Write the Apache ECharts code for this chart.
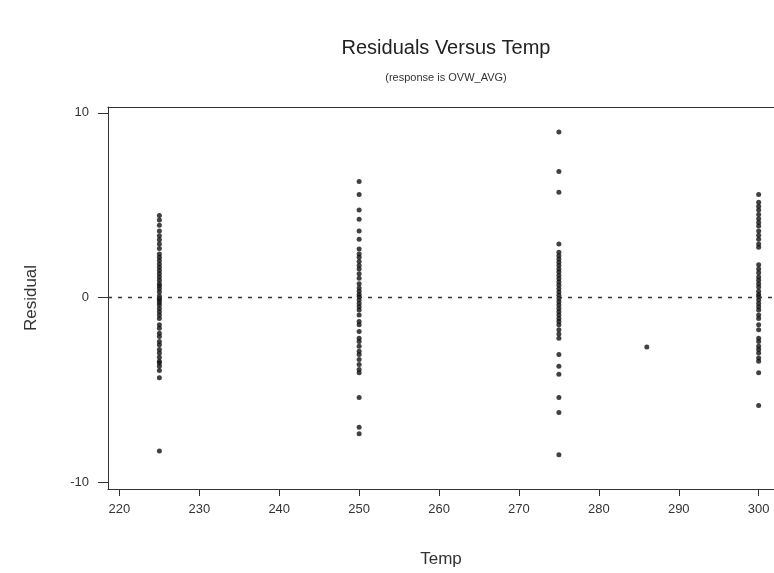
<!DOCTYPE html>
<html>
<head>
<meta charset="utf-8">
<script src="https://cdn.jsdelivr.net/npm/echarts@6/dist/echarts.min.js"></script>
<style>html,body{margin:0;padding:0;background:#fff}#c{width:774px;height:573px}</style>
</head>
<body>
<div id="c"></div>
<script>
const titleText = "Residuals Versus Temp";
const subtitleText = "(response is OVW_AVG)";
const xName = "Temp";
const yName = "Residual";
const xTicks = [220, 230, 240, 250, 260, 270, 280, 290, 300];
const yTicks = [-10, 0, 10];

const res225 = [4.45, 4.2, 3.91, 3.61, 3.34, 3.13, 2.9, 2.66, 2.36, 2.18, 2.0, 1.82, 1.64, 1.47, 1.29, 1.11, 0.93, 0.75, 0.63, 0.48, 0.30, 0.09, -0.05, -0.14, -0.27, -0.41, -0.59, -0.77, -0.95, -1.13, -1.48, -1.66, -1.93, -2.11, -2.38, -2.56, -2.82, -3.0, -3.23, -3.45, -3.54, -3.72, -3.95, -4.34, -8.31];
const res250 = [6.29, 5.58, 4.74, 4.24, 3.61, 3.16, 2.63, 2.36, 2.18, 1.95, 1.73, 1.55, 1.29, 1.05, 0.75, 0.52, 0.34, 0.16, 0.04, -0.14, -0.32, -0.5, -0.68, -0.95, -1.3, -1.48, -1.84, -2.2, -2.38, -2.64, -2.91, -3.09, -3.36, -3.63, -3.9, -4.08, -5.42, -7.02, -7.38];
const res275 = [8.97, 6.83, 5.7, 2.9, 2.45, 2.27, 2.09, 1.91, 1.73, 1.55, 1.38, 1.2, 1.02, 0.84, 0.66, 0.48, 0.3, 0.13, -0.05, -0.23, -0.41, -0.59, -0.77, -0.95, -1.13, -1.3, -1.48, -1.75, -1.98, -2.2, -3.09, -3.72, -4.16, -5.42, -6.22, -8.51];
const res300 = [5.58, 5.16, 4.95, 4.74, 4.5, 4.27, 4.06, 3.88, 3.61, 3.38, 3.16, 2.9, 2.72, 1.77, 1.55, 1.34, 1.11, 0.93, 0.75, 0.57, 0.34, 0.16, 0.04, -0.14, -0.32, -0.5, -0.68, -0.95, -1.13, -1.48, -1.75, -2.2, -2.38, -2.64, -2.82, -3.0, -3.27, -3.45, -4.08, -5.85];
const outlierTemp = [286];
const outlierRes = [-2.68];

const groups = [[225, res225], [250, res250], [275, res275], [300, res300]];
const points = [];
groups.forEach(([t, arr]) => arr.forEach(v => points.push([t, v])));
outlierTemp.forEach((t, i) => points.push([t, outlierRes[i]]));

const font = "Liberation Sans, Arial, sans-serif";
const X_MIN = 218.57, X_MAX = 301.92;
const chart = echarts.init(document.getElementById('c'), null, {renderer: 'canvas'});
chart.setOption({
  animation: false,
  backgroundColor: '#fff',
  title: {
    text: titleText,
    subtext: subtitleText,
    left: 441, top: 33, textAlign: 'center',
    itemGap: 14,
    textStyle: {fontFamily: font, fontSize: 20, fontWeight: 'normal', color: '#222'},
    subtextStyle: {fontFamily: font, fontSize: 11, color: '#333'}
  },
  grid: {left: 108, right: 0, top: 107, bottom: 80, show: false},
  xAxis: [{
    type: 'value', min: X_MIN, max: X_MAX,
    name: xName, nameLocation: 'middle', nameGap: 62,
    nameTextStyle: {fontFamily: font, fontSize: 17, color: '#333'},
    axisLine: {show: true, onZero: false, lineStyle: {color: '#333', width: 1}},
    axisTick: {show: true, length: 7, customValues: xTicks, lineStyle: {color: '#333'}},
    axisLabel: {customValues: xTicks, fontFamily: font, fontSize: 13, color: '#333', margin: 14},
    splitLine: {show: false}
  }, {
    type: 'value', position: 'top', min: X_MIN, max: X_MAX,
    axisLine: {show: true, onZero: false, lineStyle: {color: '#333', width: 1}},
    axisTick: {show: false}, axisLabel: {show: false}, splitLine: {show: false}
  }],
  yAxis: {
    type: 'value', min: -10.37, max: 10.32,
    name: yName, nameLocation: 'middle', nameGap: 68, nameRotate: 90,
    nameTextStyle: {fontFamily: font, fontSize: 17, color: '#333'},
    axisLine: {show: true, onZero: false, lineStyle: {color: '#333', width: 1}},
    axisTick: {show: true, length: 10, customValues: yTicks, lineStyle: {color: '#333'}},
    axisLabel: {customValues: yTicks, fontFamily: font, fontSize: 13, color: '#333', margin: 19},
    splitLine: {show: false}
  },
  series: [{
    type: 'scatter',
    xAxisIndex: 0,
    data: points,
    symbol: 'circle',
    symbolSize: 5,
    itemStyle: {color: '#111'},
    markLine: {
      silent: true, symbol: 'none', label: {show: false},
      lineStyle: {color: '#333', type: [4, 6], width: 1.3},
      data: [{yAxis: 0}]
    }
  }]
});
</script>
</body>
</html>
